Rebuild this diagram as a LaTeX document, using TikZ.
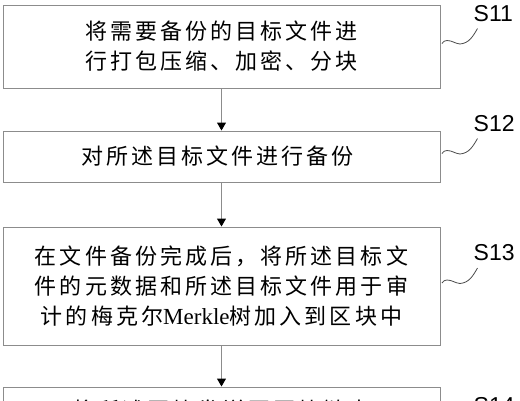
\documentclass[tikz,border=0pt]{standalone}
\usepackage{fontspec}
\setmainfont{Liberation Serif}
\newfontfamily\cjk[LetterSpace=14]{Noto Sans CJK SC}
\newfontfamily\tagfont{Liberation Sans}
\usetikzlibrary{positioning,arrows.meta}
\tikzstyle{stepbox}=[rectangle, draw=black!45, line width=1pt, align=center, text=black, minimum width=437pt, inner sep=0pt, font=\fontsize{22}{30}\selectfont\cjk]
\tikzstyle{tag}=[inner sep=0pt, anchor=west, text=black, font=\fontsize{23}{23}\selectfont\tagfont]
\tikzstyle{wave}=[draw=black!70, line width=0.8pt]
\tikzstyle{flow}=[draw=black!45, line width=1pt]
\tikzset{>={Triangle[length=8pt,width=9pt,color=black]}}

\begin{document}
\begin{tikzpicture}[node distance=42pt]
        \useasboundingbox (0,0) rectangle (520pt,-400pt);
        \clip (0,0) rectangle (520pt,-400pt);

        \node(s11)[stepbox, minimum height=83pt] at (221.5pt,-46.5pt) {
            将需要备份的目标文件进\\行打包压缩、加密、分块
        };
        \node(s12)[stepbox, minimum height=51pt, below=of s11] {
            对所述目标文件进行备份
        };
        \node(s13)[stepbox, minimum height=118pt, below=44pt of s12] {
            在文件备份完成后，将所述目标文\\件的元数据和所述目标文件用于审\\计的梅克尔{\rmfamily\fontsize{23}{30}\selectfont Merkle}树加入到区块中
        };
        \node(s14)[stepbox, minimum height=104pt, below=41pt of s13] {
            将所述区块发送至区块链中\\\mbox{}\\\mbox{}
        };

        \draw[flow, ->] (s11) -- (s12);
        \draw[flow, ->] (s12) -- (s13);
        \draw[flow, ->] (s13) -- (s14);

        \node(t11)[tag, right=33pt of s11.east, yshift=33pt]{S11};
        \node(t12)[tag, right=33pt of s12.east, yshift=33pt]{S12};
        \node(t13)[tag, right=33pt of s13.east, yshift=33pt]{S13};
        \node(t14)[tag, right=33pt of s14.east, yshift=33pt]{S14};

        \draw[wave] ([xshift=1.5pt,yshift=3pt]s11.east) to[out=60,in=180] ++(5pt,3pt) to[out=0,in=175] ++(13pt,-3.5pt) to[out=5,in=240] ([xshift=4pt,yshift=-15pt]t11.west);
        \draw[wave] ([xshift=1.5pt,yshift=3pt]s12.east) to[out=60,in=180] ++(5pt,3pt) to[out=0,in=175] ++(13pt,-3.5pt) to[out=5,in=240] ([xshift=4pt,yshift=-15pt]t12.west);
        \draw[wave] ([xshift=1.5pt,yshift=3pt]s13.east) to[out=60,in=180] ++(5pt,3pt) to[out=0,in=175] ++(13pt,-3.5pt) to[out=5,in=240] ([xshift=4pt,yshift=-15pt]t13.west);
    \end{tikzpicture}
\end{document}
